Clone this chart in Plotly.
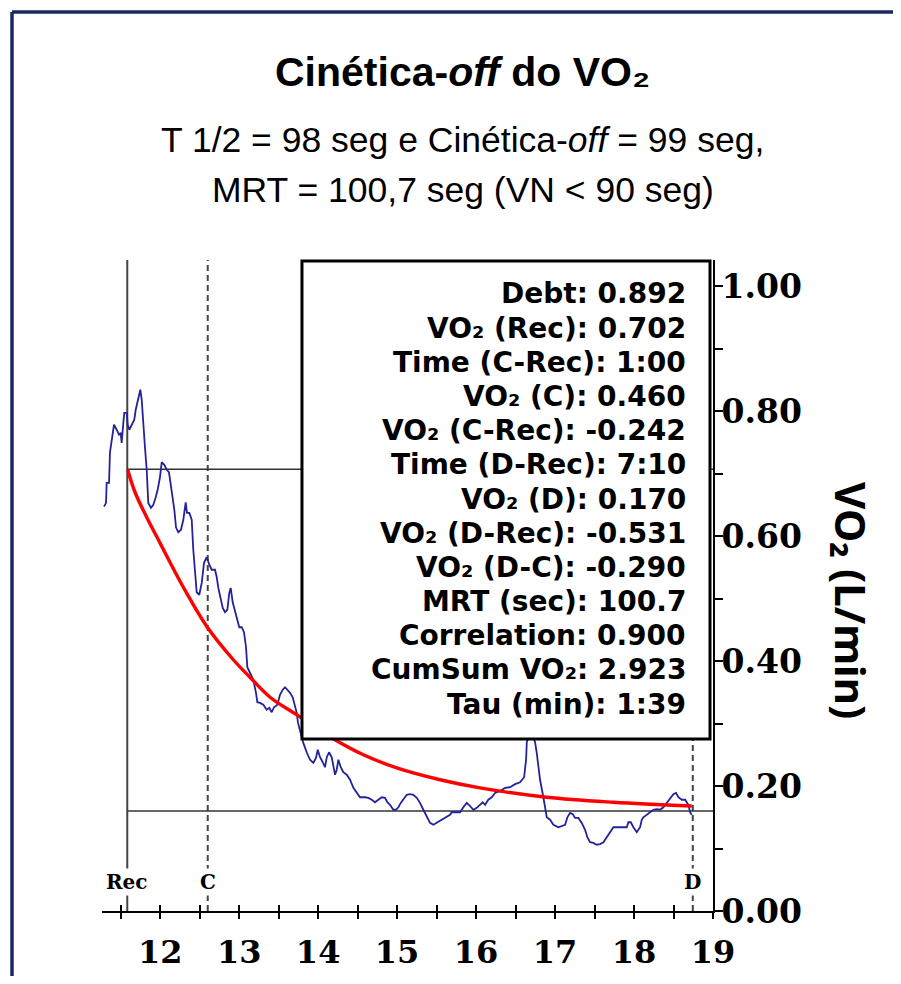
import plotly.graph_objects as go

# ---------------- data ----------------
time_blue = [11.288, 11.314, 11.322, 11.352, 11.364, 11.393, 11.415, 11.449, 11.478, 11.500,
             11.512, 11.533, 11.545, 11.576, 11.588, 11.609, 11.639, 11.672, 11.690, 11.723,
             11.748, 11.766, 11.786, 11.807, 11.829, 11.849, 11.883, 11.913, 11.943, 11.968,
             11.997, 12.019, 12.052, 12.082, 12.111, 12.153, 12.179, 12.200, 12.229, 12.263,
             12.293, 12.323, 12.339, 12.369, 12.399, 12.419, 12.441, 12.462, 12.495, 12.526,
             12.555, 12.589, 12.622, 12.652, 12.694, 12.716, 12.736, 12.766, 12.792, 12.821,
             12.850, 12.875, 12.893, 12.918, 12.947, 12.976, 13.002, 13.032, 13.061, 13.087,
             13.103, 13.137, 13.179, 13.213, 13.230, 13.264, 13.306, 13.349, 13.382, 13.412,
             13.441, 13.483, 13.517, 13.551, 13.581, 13.610, 13.644, 13.678, 13.707, 13.729,
             13.745, 13.792, 13.812, 13.855, 13.897, 13.939, 13.973, 13.995, 14.024, 14.058,
             14.087, 14.109, 14.138, 14.172, 14.192, 14.214, 14.235, 14.256, 14.286, 14.319,
             14.362, 14.404, 14.446, 14.489, 14.530, 14.594, 14.636, 14.679, 14.720, 14.762,
             14.805, 14.847, 14.876, 14.910, 14.952, 14.986, 15.016, 15.046, 15.079, 15.122,
             15.164, 15.206, 15.249, 15.290, 15.332, 15.375, 15.417, 15.459, 15.502, 15.565,
             15.629, 15.670, 15.692, 15.734, 15.797, 15.839, 15.882, 15.924, 15.965, 16.008,
             16.050, 16.084, 16.114, 16.155, 16.198, 16.240, 16.304, 16.367, 16.430, 16.494,
             16.557, 16.608, 16.633, 16.642, 16.690, 16.747, 16.768, 16.810, 16.852, 16.873,
             16.895, 16.937, 16.979, 17.042, 17.085, 17.127, 17.156, 17.190, 17.224, 17.253,
             17.295, 17.338, 17.380, 17.409, 17.443, 17.485, 17.528, 17.570, 17.612, 17.655,
             17.697, 17.739, 17.782, 17.823, 17.865, 17.908, 17.929, 17.959, 17.992, 18.035,
             18.077, 18.098, 18.118, 18.162, 18.203, 18.245, 18.288, 18.330, 18.372, 18.415,
             18.457, 18.498, 18.532, 18.562, 18.605, 18.647, 18.688, 18.710, 18.731]
vo2_blue = [0.647, 0.653, 0.685, 0.685, 0.734, 0.762, 0.778, 0.770, 0.762, 0.765,
            0.749, 0.781, 0.797, 0.797, 0.778, 0.770, 0.778, 0.786, 0.802, 0.822,
            0.834, 0.818, 0.774, 0.742, 0.706, 0.653, 0.645, 0.650, 0.662, 0.674,
            0.694, 0.718, 0.714, 0.706, 0.702, 0.669, 0.642, 0.614, 0.606, 0.610,
            0.626, 0.654, 0.637, 0.637, 0.626, 0.578, 0.546, 0.510, 0.506, 0.525,
            0.557, 0.566, 0.554, 0.546, 0.546, 0.534, 0.517, 0.502, 0.485, 0.478,
            0.482, 0.509, 0.517, 0.494, 0.482, 0.466, 0.454, 0.454, 0.446, 0.422,
            0.390, 0.381, 0.370, 0.349, 0.334, 0.333, 0.330, 0.322, 0.325, 0.318,
            0.326, 0.330, 0.346, 0.354, 0.358, 0.354, 0.349, 0.342, 0.330, 0.317,
            0.301, 0.277, 0.269, 0.254, 0.242, 0.237, 0.245, 0.258, 0.246, 0.238,
            0.230, 0.246, 0.254, 0.246, 0.234, 0.218, 0.226, 0.242, 0.230, 0.222,
            0.218, 0.210, 0.197, 0.189, 0.182, 0.182, 0.181, 0.178, 0.174, 0.178,
            0.182, 0.181, 0.174, 0.170, 0.162, 0.162, 0.166, 0.173, 0.178, 0.186,
            0.187, 0.186, 0.181, 0.173, 0.162, 0.150, 0.141, 0.138, 0.141, 0.146,
            0.150, 0.154, 0.158, 0.158, 0.158, 0.166, 0.173, 0.168, 0.162, 0.165,
            0.170, 0.174, 0.170, 0.178, 0.182, 0.189, 0.192, 0.197, 0.198, 0.203,
            0.206, 0.214, 0.242, 0.270, 0.290, 0.270, 0.253, 0.210, 0.182, 0.162,
            0.150, 0.146, 0.138, 0.134, 0.136, 0.138, 0.150, 0.157, 0.155, 0.149,
            0.149, 0.141, 0.130, 0.118, 0.110, 0.109, 0.106, 0.107, 0.110, 0.118,
            0.126, 0.134, 0.134, 0.134, 0.134, 0.134, 0.142, 0.142, 0.134, 0.126,
            0.134, 0.146, 0.150, 0.154, 0.157, 0.162, 0.163, 0.162, 0.166, 0.173,
            0.181, 0.187, 0.189, 0.182, 0.178, 0.178, 0.170, 0.158, 0.154]

time_fit = [11.588, 11.681, 11.829, 11.997, 12.293, 12.597, 12.926, 13.137, 13.391,
            13.729, 14.214, 14.572, 14.995, 15.544, 16.050, 16.895, 17.739, 18.731]
vo2_fit = [0.706, 0.670, 0.630, 0.589, 0.518, 0.454, 0.402, 0.374, 0.342,
           0.314, 0.274, 0.250, 0.229, 0.210, 0.197, 0.182, 0.174, 0.168]

marker_names = ["Rec", "C", "D"]
marker_times = [11.583, 12.602, 18.744]
level_rec = 0.707
level_d = 0.160

stats_lines = ["Debt: 0.892", "VO₂ (Rec): 0.702", "Time (C-Rec): 1:00", "VO₂ (C): 0.460",
               "VO₂ (C-Rec): -0.242", "Time (D-Rec): 7:10", "VO₂ (D): 0.170",
               "VO₂ (D-Rec): -0.531", "VO₂ (D-C): -0.290", "MRT (sec): 100.7",
               "Correlation: 0.900", "CumSum VO₂: 2.923", "Tau (min): 1:39"]

x_tick_vals = [12, 13, 14, 15, 16, 17, 18, 19]
y_tick_vals = [0.0, 0.2, 0.4, 0.6, 0.8, 1.0]
y_tick_text = ["0.00", "0.20", "0.40", "0.60", "0.80", "1.00"]

x_range = [11.263, 19.0]
y_range = [0.0, 1.0416]

title_text = "Cinética-<i>off</i> do VO₂"
subtitle_1 = "T 1/2 = 98 seg e Cinética-<i>off</i> = 99 seg,"
subtitle_2 = "MRT = 100,7 seg (VN &lt; 90 seg)"
y_title = "VO₂ (L/min)"

# ---------------- figure ----------------
HEAD = "Liberation Sans, Arial, Helvetica, sans-serif"
SERIF = "DejaVu Serif, serif"
BOX = "DejaVu Sans, Noto Sans, sans-serif"
SANS = "Noto Sans, Open Sans, DejaVu Sans, sans-serif"

fig = go.Figure()

# reference lines
fig.add_trace(go.Scatter(x=[marker_times[0], marker_times[0]], y=[0, y_range[1]], mode="lines",
                         line=dict(color="#444444", width=2), hoverinfo="skip", showlegend=False))
for t in marker_times[1:]:
    fig.add_trace(go.Scatter(x=[t, t], y=[0, y_range[1]], mode="lines",
                             line=dict(color="#444444", width=2, dash="6px,4px"),
                             hoverinfo="skip", showlegend=False))
for lv in [level_rec, level_d]:
    fig.add_trace(go.Scatter(x=[marker_times[0], x_range[1]], y=[lv, lv], mode="lines",
                             line=dict(color="#333333", width=1.5), hoverinfo="skip",
                             showlegend=False))

fig.add_trace(go.Scatter(x=time_blue, y=vo2_blue, mode="lines",
                         line=dict(color="#23239a", width=1.8), showlegend=False))
fig.add_trace(go.Scatter(x=time_fit, y=vo2_fit, mode="lines", line_shape="spline",
                         line=dict(color="#ff0000", width=3.4), showlegend=False))
# invisible trace for the overlay axis (ticks crossing the x axis)
fig.add_trace(go.Scatter(x=[], y=[], xaxis="x2", showlegend=False, hoverinfo="skip"))

fig.update_layout(
    width=885, height=968,
    margin=dict(l=94, r=180, t=252, b=65),
    paper_bgcolor="white", plot_bgcolor="white",
    showlegend=False,
    xaxis=dict(range=x_range, showgrid=False, zeroline=False, automargin=False,
               showline=True, linecolor="black", linewidth=2,
               tickmode="array", tickvals=x_tick_vals,
               ticks="outside", ticklen=6, tickwidth=1.5, tickcolor="black",
               minor=dict(tickmode="linear", tick0=11.5, dtick=0.5, ticks="outside",
                          ticklen=6, tickwidth=1.5, tickcolor="black"),
               tickfont=dict(family=SERIF, size=32, color="black", weight="bold"),
               ticklabelstandoff=6),
    xaxis2=dict(range=x_range, overlaying="x", anchor="y", side="bottom", automargin=False,
                showgrid=False, zeroline=False, showline=False, showticklabels=False,
                tickmode="array", tickvals=x_tick_vals,
                ticks="inside", ticklen=6, tickwidth=1.5, tickcolor="black",
                minor=dict(tickmode="linear", tick0=11.5, dtick=0.5, ticks="inside",
                           ticklen=6, tickwidth=1.5, tickcolor="black")),
    yaxis=dict(range=y_range, side="right", showgrid=False, zeroline=False, automargin=False,
               showline=True, linecolor="black", linewidth=2,
               tickmode="array", tickvals=y_tick_vals, ticktext=y_tick_text,
               ticks="outside", ticklen=8, tickwidth=1.5, tickcolor="black",
               minor=dict(tickmode="linear", tick0=0.1, dtick=0.2, ticks="outside",
                          ticklen=8, tickwidth=1.5, tickcolor="black"),
               tickfont=dict(family=SERIF, size=33, color="black", weight="bold"),
               ticklabelstandoff=-8),
)

# statistics box (white, bordered, above the curves)
fig.add_shape(type="rect", xref="paper", yref="paper",
              x0=0.3273, x1=0.9951, y0=0.2642, y1=0.9985,
              fillcolor="white", line=dict(color="black", width=3), layer="above")

# outer frame (top and left dark blue rules)
fig.add_shape(type="line", xref="paper", yref="paper", x0=-0.1473, x1=1.31, y0=1.381, y1=1.381,
              line=dict(color="#1b2a5e", width=3.5))
fig.add_shape(type="line", xref="paper", yref="paper", x0=-0.1473, x1=-0.1473, y0=1.381, y1=-0.12,
              line=dict(color="#1b2a5e", width=3.5))

# statistics text, one line each (line pitch ~34 px)
line_top = 0.9478     # paper y of first line centre
line_step = 0.05249   # paper units between lines
for i, s in enumerate(stats_lines):
    fig.add_annotation(xref="paper", yref="paper", x=0.9591, y=line_top - i * line_step,
                       xanchor="right", yanchor="middle", showarrow=False, text=s,
                       font=dict(family=BOX, size=28, color="black", weight="bold"))

for name, t in zip(marker_names, marker_times):
    fig.add_annotation(x=t, y=0.0464, xref="x", yref="y", text=name, showarrow=False,
                       bgcolor="white", borderpad=1,
                       font=dict(family=SERIF, size=20, color="black", weight="bold"))

fig.add_annotation(xref="paper", yref="paper", x=0.5908, y=1.2888, showarrow=False,
                   text=title_text, xanchor="center", yanchor="middle",
                   font=dict(family=HEAD, size=41, color="black", weight="bold"))
fig.add_annotation(xref="paper", yref="paper", x=0.5908, y=1.1843, showarrow=False,
                   text=subtitle_1, xanchor="center", yanchor="middle",
                   font=dict(family=HEAD, size=35.5, color="black"))
fig.add_annotation(xref="paper", yref="paper", x=0.5908, y=1.1075, showarrow=False,
                   text=subtitle_2, xanchor="center", yanchor="middle",
                   font=dict(family=HEAD, size=35.5, color="black"))
fig.add_annotation(xref="paper", yref="paper", x=1.2275, y=0.4777, showarrow=False,
                   text=y_title, textangle=90, xanchor="center", yanchor="middle",
                   font=dict(family=SANS, size=42, color="black", weight="bold"))

fig.write_html("out.html")
